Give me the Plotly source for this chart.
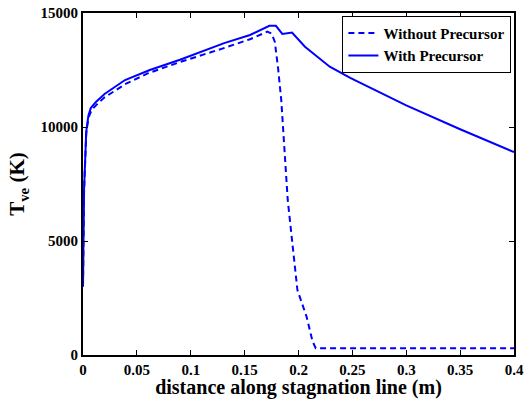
import plotly.graph_objects as go

# Without Precursor (dashed)
x_without = [0.0, 0.001, 0.003, 0.005, 0.008, 0.012, 0.02, 0.04, 0.06, 0.09, 0.13, 0.155, 0.171, 0.175, 0.178,
             0.181, 0.184, 0.187, 0.190, 0.195, 0.199, 0.2075, 0.213, 0.216, 0.25, 0.3, 0.35, 0.4]
y_without = [3000, 7200, 9700, 10400, 10750, 10950, 11300, 11900, 12350, 12850, 13450, 13850, 14180, 14100, 13740,
             12600, 11180, 8990, 6800, 4600, 2850, 1680, 600, 300, 300, 300, 300, 300]

# With Precursor (solid)
x_with = [0.0, 0.001, 0.003, 0.005, 0.0072, 0.012, 0.02, 0.039, 0.062, 0.09, 0.131, 0.155, 0.173, 0.179,
          0.185, 0.194, 0.206, 0.229, 0.248, 0.3, 0.35, 0.4]
y_with = [3000, 7300, 9800, 10500, 10830, 11100, 11450, 12060, 12500, 12950, 13680, 14035, 14440, 14440,
          14080, 14140, 13520, 12645, 12150, 10950, 9900, 8900]

x_ticks = [0, 0.05, 0.1, 0.15, 0.2, 0.25, 0.3, 0.35, 0.4]
x_tick_labels = ["0", "0.05", "0.1", "0.15", "0.2", "0.25", "0.3", "0.35", "0.4"]
y_ticks = [0, 5000, 10000, 15000]
y_tick_labels = ["0", "5000", "10000", "15000"]

font_family = "Liberation Serif"

fig = go.Figure()
fig.add_trace(go.Scatter(x=x_without, y=y_without, mode="lines", name="<b>Without Precursor</b>",
                         line=dict(color="#0000ff", width=2, dash="6px,4px")))
fig.add_trace(go.Scatter(x=x_with, y=y_with, mode="lines", name="<b>With Precursor</b>",
                         line=dict(color="#0000ff", width=2)))

axis_common = dict(showline=True, linecolor="black", linewidth=2, mirror="ticks",
                   ticks="inside", ticklen=5, tickcolor="black", tickwidth=1, showgrid=False, zeroline=False,
                   automargin=False,
                   tickfont=dict(family=font_family, size=15, color="black"))

fig.update_xaxes(range=[0, 0.4], tickvals=x_ticks, ticktext=["<b>%s</b>" % t for t in x_tick_labels],
                 title=dict(text="<b>distance along stagnation line (m)</b>", standoff=0,
                            font=dict(family=font_family, size=20, color="black")),
                 **axis_common)
fig.update_yaxes(range=[0, 15000], tickvals=y_ticks, ticktext=["<b>%s</b>" % t for t in y_tick_labels],
                 title=dict(text="<b>T<sub>ve</sub> (K)</b>", standoff=10,
                            font=dict(family=font_family, size=21, color="black")),
                 **axis_common)

fig.update_layout(
    width=525, height=399,
    margin=dict(l=83, r=11, t=13, b=44),
    plot_bgcolor="white", paper_bgcolor="white",
    legend=dict(x=0.994, y=0.992, xanchor="right", yanchor="top",
                bordercolor="black", borderwidth=1, bgcolor="white",
                font=dict(family=font_family, size=15, color="black"),
                tracegroupgap=0, itemwidth=30),
    showlegend=True,
)

fig.write_html("out.html")
